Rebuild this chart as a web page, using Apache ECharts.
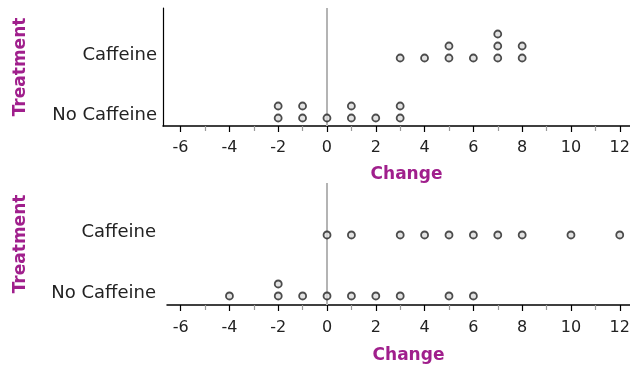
<!DOCTYPE html>
<html><head><meta charset="utf-8">
<script src="https://cdn.jsdelivr.net/npm/echarts@6/dist/echarts.min.js"></script>
<style>html,body{margin:0;padding:0;background:#fff}#c{width:630px;height:367px}</style>
</head><body><div id="c"></div>
<script>
// ---- data ----
const categories = ['No Caffeine', 'Caffeine'];
const xTickValues = [-6, -4, -2, 0, 2, 4, 6, 8, 10, 12];
const xMinorTickValues = [-5, -3, -1, 1, 3, 5, 7, 9, 11];
// upper panel
const topCaffeine = [3, 4, 5, 5, 6, 7, 7, 7, 8, 8];
const topNoCaffeine = [-2, -2, -1, -1, 0, 1, 1, 2, 3, 3];
// lower panel
const bottomCaffeine = [0, 1, 3, 4, 5, 6, 7, 8, 10, 12];
const bottomNoCaffeine = [-4, -2, -2, -1, 0, 1, 2, 3, 5, 6];

const FONT = 'DejaVu Sans';
const TITLE_COLOR = '#a01f8c';
const STEP = 12;

function dots(values, catIdx) {
  const count = {};
  return values.map(v => {
    const k = count[v] || 0;
    count[v] = k + 1;
    return { value: [v, catIdx], symbolOffset: [0, 3 - STEP * k] };
  });
}

function mainX(gridIndex, min, max, labelMargin, nameGap) {
  return {
    type: 'value', gridIndex, min, max, position: 'bottom',
    splitLine: { show: false },
    axisLine: { show: true, onZero: false, lineStyle: { color: '#000', width: 1.5 } },
    axisTick: { show: true, customValues: xTickValues, length: 6, lineStyle: { color: '#000', width: 1.2 } },
    axisLabel: { customValues: xTickValues, fontSize: 16, color: '#222', margin: labelMargin, fontFamily: FONT },
    name: 'Change', nameLocation: 'middle', nameGap,
    nameTextStyle: { fontSize: 17, fontWeight: 'bold', color: TITLE_COLOR, fontFamily: FONT, padding: [0, 0, 0, 20] }
  };
}
function minorX(gridIndex, min, max) {
  return {
    type: 'value', gridIndex, min, max, position: 'bottom',
    splitLine: { show: false },
    axisLine: { show: false, onZero: false },
    axisLabel: { show: false },
    axisTick: { show: true, customValues: xMinorTickValues, length: 5, lineStyle: { color: '#999', width: 1.2 } }
  };
}
function catY(gridIndex, min, max, showLine, margin, gap) {
  return {
    type: 'value', gridIndex, min, max,
    splitLine: { show: false },
    axisLine: { show: showLine, onZero: false, lineStyle: { color: '#000', width: 1.2 } },
    axisTick: { show: false },
    axisLabel: { customValues: [0, 1], formatter: v => categories[Math.round(v)], fontSize: 18, color: '#222', margin, fontFamily: FONT },
    name: 'Treatment', nameLocation: 'middle', nameGap: gap,
    nameTextStyle: { fontSize: 17, fontWeight: 'bold', color: TITLE_COLOR, fontFamily: FONT }
  };
}
const dotStyle = { color: '#dcdcdc', borderColor: '#222', borderWidth: 1.8 };
function dotSeries(data, xi, yi, withZero) {
  const s = {
    type: 'scatter', xAxisIndex: xi, yAxisIndex: yi, data,
    symbol: 'circle', symbolSize: 7, itemStyle: dotStyle, z: 5
  };
  if (withZero) {
    s.markLine = {
      silent: true, symbol: 'none', label: { show: false }, z: 1,
      lineStyle: { color: '#b4b4b4', width: 2, type: 'solid' },
      data: [{ xAxis: 0 }]
    };
  }
  return s;
}

const chart = echarts.init(document.getElementById('c'), null, { renderer: 'canvas' });
chart.setOption({
  animation: false,
  backgroundColor: '#fff',
  grid: [
    { left: 163, right: 0, top: 8, height: 118, outerBoundsMode: 'none', containLabel: false },
    { left: 167, right: 0, top: 183, height: 122, outerBoundsMode: 'none', containLabel: false }
  ],
  xAxis: [
    mainX(0, -6.72, 12.42, 14, 40), mainX(1, -6.56, 12.42, 15, 42),
    minorX(0, -6.72, 12.42), minorX(1, -6.56, 12.42)
  ],
  yAxis: [
    catY(0, -0.1833, 1.7833, true, 6, 134),
    catY(1, -0.197, 1.803, false, 11, 138)
  ],
  series: [
    dotSeries(dots(topNoCaffeine, 0), 0, 0, true),
    dotSeries(dots(topCaffeine, 1), 0, 0, false),
    dotSeries(dots(bottomNoCaffeine, 0), 1, 1, true),
    dotSeries(dots(bottomCaffeine, 1), 1, 1, false)
  ]
});
</script></body></html>
